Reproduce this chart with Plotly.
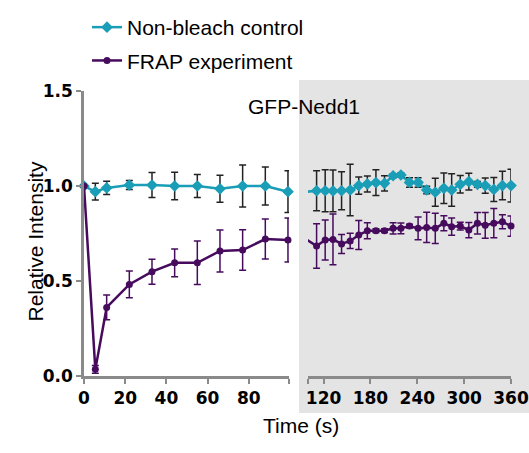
import plotly.graph_objects as go

# ---- data ----
t_left = [0, 5.5, 11, 22, 33, 44, 55, 66, 77, 88, 99]
ctrl_left = [1.00, 0.97, 0.99, 1.005, 1.005, 1.00, 1.00, 0.985, 1.00, 1.00, 0.97]
ctrl_left_err = [0, 0.044, 0.035, 0.024, 0.066, 0.072, 0.061, 0.071, 0.11, 0.10, 0.11]
frap_left = [1.00, 0.035, 0.361, 0.482, 0.549, 0.596, 0.596, 0.658, 0.663, 0.721, 0.716]
frap_left_err = [0, 0.02, 0.065, 0.07, 0.066, 0.073, 0.115, 0.11, 0.107, 0.105, 0.116]

t_right = [111, 122, 132, 143, 154, 165, 176, 187, 198, 209, 219, 230,
           241, 252, 263, 274, 284, 295, 306, 317, 327, 338, 349, 360]
ctrl_right = [0.975, 0.975, 0.974, 0.975, 0.979, 1.002, 1.011, 1.018, 1.014, 1.054, 1.058, 1.019,
              1.019, 0.979, 0.967, 0.988, 0.979, 1.009, 1.023, 1.009, 1.002, 0.982, 1.002, 1.002]
ctrl_right_err = [0.105, 0.11, 0.11, 0.10, 0.135, 0.045, 0.042, 0.068, 0.04, 0.01, 0.01, 0.025,
                  0.025, 0.02, 0.074, 0.08, 0.085, 0.046, 0.044, 0.015, 0.04, 0.063, 0.075, 0.086]
frap_right = [0.684, 0.716, 0.719, 0.695, 0.711, 0.742, 0.765, 0.765, 0.765, 0.777, 0.777, 0.789,
              0.777, 0.782, 0.777, 0.804, 0.786, 0.789, 0.768, 0.804, 0.793, 0.804, 0.812, 0.789]
frap_right_err = [0.117, 0.105, 0.134, 0.05, 0.04, 0.076, 0.042, 0.01, 0.01, 0.03, 0.028, 0.01,
                  0.06, 0.08, 0.08, 0.04, 0.045, 0.02, 0.04, 0.057, 0.068, 0.077, 0.037, 0.053]

left_ticks = [0, 20, 40, 60, 80, 99.5]
left_labels = ["0", "20", "40", "60", "80", ""]
right_ticks = [100, 120, 180, 240, 300, 360]
right_labels = ["", "120", "180", "240", "300", "360"]

TEAL = "#1a9db6"
PURPLE = "#470b5e"
AXIS = "#8a8a8a"
SANS = "Liberation Sans, Arial, sans-serif"
TICKFONT = dict(family="DejaVu Sans", size=17, color="black", weight="bold")

W, H = 529, 453


def px(x):
    return x / W


def py(y):
    return 1 - y / H


fig = go.Figure()

# left panel
fig.add_trace(go.Scatter(
    x=t_left, y=ctrl_left, mode="lines+markers", name="Non-bleach control",
    legendgroup="c", line=dict(color=TEAL, width=2.5),
    marker=dict(symbol="diamond", size=9, color=TEAL),
    error_y=dict(type="data", array=ctrl_left_err, color="#222222", thickness=1.5, width=3.5),
    cliponaxis=False))
fig.add_trace(go.Scatter(
    x=t_left, y=frap_left, mode="lines+markers", name="FRAP experiment",
    legendgroup="f", line=dict(color=PURPLE, width=2.5),
    marker=dict(symbol="circle", size=7, color=PURPLE),
    error_y=dict(type="data", array=frap_left_err, color=PURPLE, thickness=1.5, width=3.5),
    cliponaxis=False))

# right panel: connecting lines (carry on from the last left point, clipped)
fig.add_trace(go.Scatter(
    x=[t_left[-1]] + t_right, y=[ctrl_left[-1]] + ctrl_right, mode="lines",
    line=dict(color=TEAL, width=2.5), xaxis="x2", yaxis="y", showlegend=False,
    hoverinfo="skip"))
fig.add_trace(go.Scatter(
    x=[t_left[-1]] + t_right, y=[frap_left[-1]] + frap_right, mode="lines",
    line=dict(color=PURPLE, width=2.5), xaxis="x2", yaxis="y", showlegend=False,
    hoverinfo="skip"))
fig.add_trace(go.Scatter(
    x=t_right, y=ctrl_right, mode="markers", xaxis="x2", yaxis="y", showlegend=False,
    marker=dict(symbol="diamond", size=9, color=TEAL),
    error_y=dict(type="data", array=ctrl_right_err, color="#222222", thickness=1.5, width=3.5),
    cliponaxis=False))
fig.add_trace(go.Scatter(
    x=t_right, y=frap_right, mode="markers", xaxis="x2", yaxis="y", showlegend=False,
    marker=dict(symbol="circle", size=7, color=PURPLE),
    error_y=dict(type="data", array=frap_right_err, color=PURPLE, thickness=1.5, width=3.5),
    cliponaxis=False))

axis_common = dict(showline=True, linecolor=AXIS, linewidth=2.5, ticks="outside",
                   tickcolor=AXIS, tickwidth=2, ticklen=5, showgrid=False, zeroline=False,
                   tickfont=TICKFONT, automargin=False)

fig.update_layout(
    width=W, height=H,
    margin=dict(l=0, r=0, t=0, b=0),
    paper_bgcolor="white", plot_bgcolor="rgba(0,0,0,0)",
    xaxis=dict(domain=[px(84), px(289)], range=[0, 99.5], anchor="y",
               tickmode="array", tickvals=left_ticks, ticktext=left_labels, **axis_common),
    xaxis2=dict(domain=[px(308), px(511)], range=[100, 360], anchor="y",
                tickmode="array", tickvals=right_ticks, ticktext=right_labels, **axis_common),
    yaxis=dict(domain=[py(376), py(91)], range=[0, 1.5], anchor="x",
               tickmode="array", tickvals=[0, 0.5, 1.0, 1.5],
               ticktext=["0.0", "0.5", "1.0", "1.5"], **axis_common),
    showlegend=True,
    legend=dict(x=px(87), y=py(7), xanchor="left", yanchor="top",
                font=dict(family=SANS, size=21, color="black"),
                bgcolor="rgba(0,0,0,0)", traceorder="grouped", tracegroupgap=3,
                itemwidth=30),
    shapes=[dict(type="rect", xref="paper", yref="paper", x0=px(299), x1=1.0,
                 y0=py(413), y1=py(80), fillcolor="#e4e4e4", line=dict(width=0),
                 layer="below")],
    annotations=[
        dict(text="GFP-Nedd1", x=px(304), y=py(93), xref="paper", yref="paper",
             showarrow=False, font=dict(family=SANS, size=21, color="black")),
        dict(text="Relative Intensity", x=px(22), y=py(242), xref="paper", yref="paper",
             textangle=-90, showarrow=False, font=dict(family=SANS, size=21, color="black")),
        dict(text="Time (s)", x=px(301), y=py(439), xref="paper", yref="paper",
             showarrow=False, font=dict(family=SANS, size=21, color="black")),
    ],
)

# page body has a default 8px margin; drop it so the figure sits at the corner
fig.write_html("out.html", config={"displayModeBar": False},
               post_script="document.body.style.margin='0';")
